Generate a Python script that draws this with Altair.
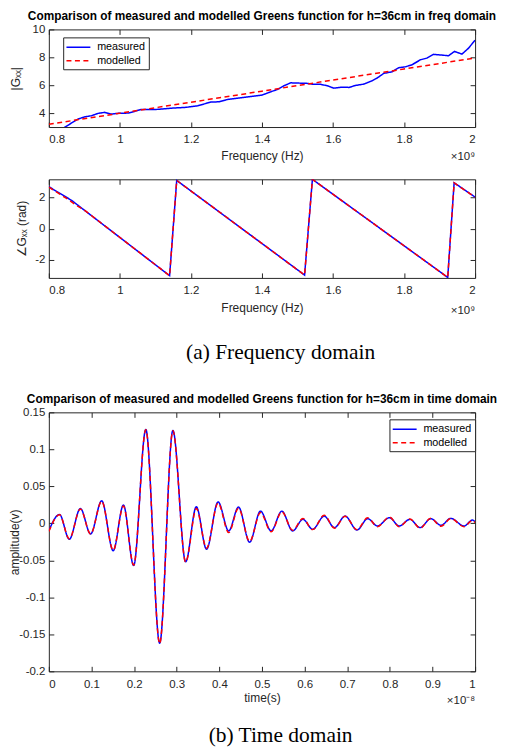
import altair as alt
import pandas as pd

# ---------------- data ----------------
series_names = ["measured", "modelled"]

freq_mag_meas = [0.80, 0.84, 0.859, 0.882, 0.901, 0.92, 0.939, 0.957, 0.976, 0.995,
                 1.023, 1.041, 1.06, 1.102, 1.149, 1.186, 1.219, 1.242, 1.256, 1.28,
                 1.303, 1.336, 1.364, 1.40, 1.425, 1.444, 1.462, 1.481, 1.504, 1.528,
                 1.546, 1.565, 1.584, 1.602, 1.626, 1.645, 1.663, 1.687, 1.71, 1.724,
                 1.743, 1.766, 1.785, 1.804, 1.822, 1.846, 1.864, 1.883, 1.907, 1.925,
                 1.942, 1.963, 1.981, 2.0]
mag_meas = [2.9, 2.9, 3.21, 3.57, 3.73, 3.81, 3.98, 4.05, 3.93, 3.98,
            4.0, 4.12, 4.26, 4.26, 4.36, 4.41, 4.52, 4.69, 4.79, 4.81,
            4.98, 5.08, 5.17, 5.29, 5.53, 5.70, 5.96, 6.17, 6.15, 6.13,
            6.06, 6.06, 5.96, 5.79, 5.86, 5.84, 5.98, 6.08, 6.32, 6.51,
            6.85, 6.96, 7.25, 7.32, 7.46, 7.82, 7.94, 8.21, 8.16, 8.11,
            8.42, 8.23, 8.64, 9.23]
freq_mag_mod = [0.8, 1.0, 1.2, 1.4, 1.6, 1.8, 2.0]
mag_mod = [3.2, 3.99, 4.78, 5.57, 6.37, 7.16, 7.95]

freq_ph_meas = [0.8, 0.864, 1.14, 1.16, 1.52, 1.542, 1.923, 1.941, 2.0]
ph_meas = [2.67, 1.80, -3.0, 3.07, -2.96, 3.14, -3.11, 2.92, 2.01]
freq_ph_mod = [0.8, 0.85, 0.88, 0.9, 1.14, 1.16, 1.52, 1.542, 1.923, 1.941, 2.0]
ph_mod = [2.64, 1.92, 1.45, 1.18, -3.0, 3.07, -2.96, 3.14, -3.11, 2.92, 2.0]

t_meas = [0, 0.025, 0.048, 0.074, 0.098, 0.124, 0.151, 0.175, 0.199, 0.2275,
          0.26, 0.291, 0.321, 0.346, 0.370, 0.397, 0.422, 0.445, 0.471, 0.4965,
          0.5215, 0.5466, 0.572, 0.596, 0.619, 0.646, 0.670, 0.695, 0.723, 0.748,
          0.771, 0.799, 0.822, 0.847, 0.871, 0.896, 0.920, 0.943, 0.974, 0.994,
          1.0]
amp_meas = [-0.010, 0.012, -0.0215, 0.020, -0.0143, 0.0305, -0.037, 0.0247, -0.057, 0.127,
            -0.162, 0.1256, -0.052, 0.0224, -0.035, 0.029, -0.0103, 0.022, -0.0255, 0.0165,
            -0.0103, 0.0165, -0.0103, 0.0054, -0.008, 0.0098, -0.0058, 0.0098, -0.009, 0.0063,
            -0.0036, 0.0076, -0.0036, 0.0054, -0.0058, 0.0063, -0.0027, 0.0067, -0.0036, 0.0044,
            0.002]
t_mod = t_meas
amp_mod = [-0.011, 0.0115, -0.021, 0.0195, -0.0145, 0.030, -0.0365, 0.0235, -0.0565, 0.1265,
           -0.1625, 0.125, -0.0525, 0.020, -0.0335, 0.0275, -0.0125, 0.0205, -0.0245, 0.0145,
           -0.0115, 0.0155, -0.0095, 0.0065, -0.0085, 0.011, -0.0065, 0.0095, -0.0085, 0.0075,
           -0.0045, 0.0085, -0.0045, 0.006, -0.0065, 0.007, -0.004, 0.0065, -0.0045, 0.004,
           0.001]

freq_ticks = [0.8, 1, 1.2, 1.4, 1.6, 1.8, 2]
mag_ticks = [4, 6, 8, 10]
ph_ticks = [-2, 0, 2]
time_ticks = [0, 0.1, 0.2, 0.3, 0.4, 0.5, 0.6, 0.7, 0.8, 0.9, 1]
amp_ticks = [-0.2, -0.15, -0.1, -0.05, 0, 0.05, 0.1, 0.15]

title_freq = "Comparison of measured and modelled Greens function for h=36cm in freq domain"
title_time = "Comparison of measured and modelled Greens function for h=36cm in time domain"
caption_a = "(a) Frequency domain"
caption_b = "(b) Time domain"
exp_freq = "\u00d710\u2079"
exp_time = "\u00d710\u207b\u2078"

# ---------------- styling ----------------
FONT = "Liberation Sans"
SERIF = "Liberation Serif"
AX = "#262626"
W = 428


def frame(x1, y1, x2, y2):
    a = pd.DataFrame({"x": x1, "y": y1, "series": series_names[0]})
    b = pd.DataFrame({"x": x2, "y": y2, "series": series_names[1]})
    return pd.concat([a, b], ignore_index=True)


AXC = dict(tickColor=AX, tickWidth=1, tickSize=5, offset=-5, domain=False, grid=False,
           labelColor=AX, labelFont=FONT, labelFontSize=11.5,
           titleFont=FONT, titleFontSize=12, titleColor=AX, titleFontWeight="normal")
LAB = "'' + datum.value"


def panel(df, xdom, ydom, xticks, yticks, h, xtitle, ytitle, ytitle_x, xtitle_y,
          exp_text, exp_y, legend_xy=None, interp="linear", title=None, title_off=0,
          caption=None):
    if legend_xy is None:
        leg = None
    else:
        leg = alt.Legend(orient="none", legendX=legend_xy[0], legendY=legend_xy[1],
                         title=None, symbolType="M-2,0L2,0", symbolSize=144,
                         symbolStrokeWidth=1.5, symbolOffset=5.3, labelFont=FONT,
                         labelFontSize=10.8, labelColor="#000000", strokeColor=AX,
                         fillColor="white", padding=3, labelOffset=11.8, rowPadding=1.4)
    color = alt.Color("series:N", scale=alt.Scale(domain=series_names,
                                                  range=["#0000ff", "#ff0000"]), legend=leg)
    dash = alt.StrokeDash("series:N", scale=alt.Scale(domain=series_names,
                                                      range=[[1, 0], [5, 3.5]]), legend=leg)
    xs = alt.Scale(domain=xdom, nice=False, zero=False)
    ys = alt.Scale(domain=ydom, nice=False, zero=False)
    lines = alt.Chart(df).mark_line(strokeWidth=1.5, clip=True, interpolate=interp).encode(
        x=alt.X("x:Q", scale=xs, axis=alt.Axis(orient="bottom", values=xticks, labelExpr=LAB,
                                               labelPadding=7, title=xtitle, titleY=xtitle_y,
                                               titleBaseline="middle", **AXC)),
        y=alt.Y("y:Q", scale=ys, axis=alt.Axis(orient="left", values=yticks, labelExpr=LAB,
                                               labelPadding=4, title=ytitle, titleX=ytitle_x,
                                               titleBaseline="middle", **AXC)),
        color=color, strokeDash=dash)
    mirror = alt.Chart(df).mark_line(strokeOpacity=0, clip=True).encode(
        x=alt.X("x:Q", scale=xs, axis=alt.Axis(orient="top", values=xticks, labels=False,
                                               title=None, **AXC)),
        y=alt.Y("y:Q", scale=ys, axis=alt.Axis(orient="right", values=yticks, labels=False,
                                               title=None, **AXC)))
    ex = alt.Chart(pd.DataFrame({"t": [exp_text]})).mark_text(
        align="right", baseline="middle", font=FONT, fontSize=11.5, color=AX).encode(
        x=alt.value(W), y=alt.value(h + exp_y), text="t:N")
    layers = [lines, mirror, ex]
    if caption is not None:
        cap = alt.Chart(pd.DataFrame({"c": [caption[0]]})).mark_text(
            align="center", baseline="middle", font=SERIF, fontSize=21.5, color="black").encode(
            x=alt.value(232.7), y=alt.value(caption[1]), text="c:N")
        layers.append(cap)
    ch = alt.layer(*layers).resolve_axis(x="independent", y="independent").properties(
        width=W, height=h)
    if title is not None:
        ch = ch.properties(title=alt.TitleParams(title, font=FONT, fontSize=11.9, fontWeight="bold",
                                                 color="black", offset=title_off, anchor="middle"))
    return ch


top = panel(frame(freq_mag_meas, mag_meas, freq_mag_mod, mag_mod), [0.8, 2.0], [3, 10],
            freq_ticks, mag_ticks, 98, "Frequency (Hz)", "|G\u2093\u2093|", -38.3, 33.5,
            exp_freq, 30, legend_xy=(14.4, 8), title=title_freq, title_off=0.5)

mid = panel(frame(freq_ph_meas, ph_meas, freq_ph_mod, ph_mod), [0.8, 2.0], [-3.1416, 3.1416],
            freq_ticks, ph_ticks, 99, "Frequency (Hz)", "\u2220G\u2093\u2093 (rad)", -32.8, 35,
            exp_freq, 33)

spacer = alt.Chart(pd.DataFrame({"c": [caption_a]})).mark_text(
    align="center", baseline="middle", font=SERIF, fontSize=21.5, color="black").encode(
    x=alt.value(232.7), y=alt.value(22.5), text="c:N").properties(
    width=W, height=30, view=alt.ViewBackground(strokeOpacity=0))

bot = panel(frame(t_meas, amp_meas, t_mod, amp_mod), [0, 1], [-0.2, 0.15],
            time_ticks, amp_ticks, 260, "time(s)", "amplitude(v)", -39, 31.3,
            exp_time, 30, legend_xy=(342, 7), interp="monotone", title=title_time,
            title_off=1, caption=(caption_b, 324.5))

chart = alt.vconcat(top, mid, spacer, bot, spacing=52.5, bounds="flush").resolve_scale(
    color="independent", strokeDash="independent").resolve_legend(
    color="independent", strokeDash="independent").properties(
    padding=0, background="white").configure_view(stroke=AX, strokeWidth=1)

chart.save("out.html", embed_options={"renderer": "svg", "actions": False})
